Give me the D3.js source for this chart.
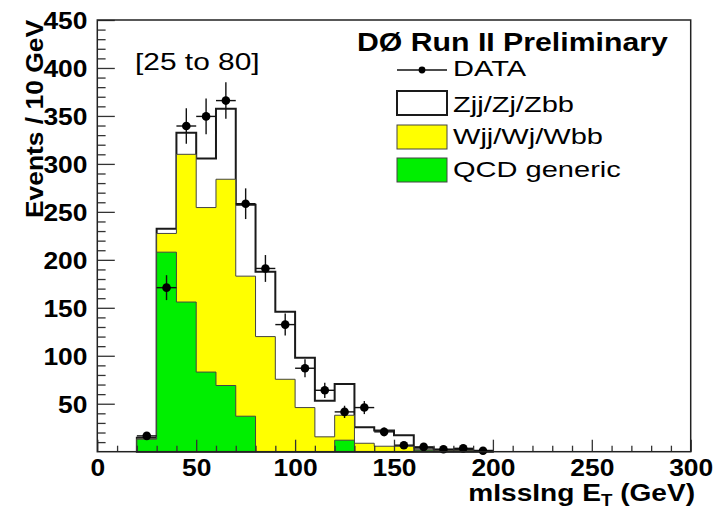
<!DOCTYPE html>
<html>
<head>
<meta charset="utf-8">
<script src="https://cdn.jsdelivr.net/npm/d3@7"></script>
<style>
  html, body { margin: 0; padding: 0; background: #fff; }
  svg { display: block; font-family: "Liberation Sans", Arial, Helvetica, sans-serif; }
</style>
</head>
<body>
<svg id="chart" width="725" height="510"></svg>
<script>
// Missing transverse energy, 10 GeV bins (lower bin edges in GeV)
const binLow = [20, 30, 40, 50, 60, 70, 80, 90, 100, 110, 120, 130, 140, 150, 160, 170, 180, 190];
const binWidth = 10;

// Simulated backgrounds, events per bin
const qcdGeneric = [13, 208, 156, 83, 69, 37, 0, 0, 0, 0, 12, 0, 0, 0, 1.5, 0, 0, 0];
const wJets      = [0.5, 19.5, 154, 171.5, 215, 146, 120, 75.5, 46, 15.5, 26, 8.8, 5.7, 5.6, 0.5, 1, 1, 0.5];
const zJets      = [1, 5, 22.5, 51, 73.5, 74.5, 67.5, 70.5, 52, 37.5, 32.5, 16.7, 16.3, 11.6, 2, 1, 1, 0.5];

// Observed events per bin and their uncertainties
const dataEvents = [16.5, 171, 339.5, 349.5, 366, 258.5, 191, 132.5, 87, 64, 41.5, 46, 20.7, 6.8, 5, 2.5, 3.5, 1];
const dataErrors = [4, 13, 18.5, 18.7, 19, 16, 14, 11.5, 9.3, 8, 6.4, 6.8, 4.5, 2.6, 2.2, 1.6, 1.9, 1];

const xTicks = [0, 50, 100, 150, 200, 250, 300];
const yTicks = [50, 100, 150, 200, 250, 300, 350, 400, 450];

const legendItems = [
  { key: "z",   label: "Zjj/Zj/Zbb" },
  { key: "w",   label: "Wjj/Wj/Wbb" },
  { key: "qcd", label: "QCD generic" }
];
const colors = { z: "#ffffff", w: "#ffff00", qcd: "#00ef00" };

const svg = d3.select("#chart");
const plot = { left: 97.3, right: 690.7, top: 20, bottom: 451.7 };

const x = d3.scaleLinear().domain([0, 300]).range([plot.left, plot.right]);
const y = d3.scaleLinear().domain([0, 450]).range([plot.bottom, plot.top]);

// Stack the three background samples: QCD at the bottom, then W, then Z
const rows = binLow.map((b, i) => ({ lo: b, qcd: qcdGeneric[i], w: wJets[i], z: zJets[i] }));
const stacked = d3.stack().keys(["qcd", "w", "z"])(rows);

// Each cumulative histogram is drawn from zero as a step outline
const stepPoints = layer => {
  const pts = [];
  layer.forEach(d => {
    pts.push([d.data.lo, d[1]]);
    pts.push([d.data.lo + binWidth, d[1]]);
  });
  return pts;
};
const area = d3.area()
  .x(p => x(p[0]))
  .y0(y(0))
  .y1(p => y(p[1]));

const histG = svg.append("g");
[...stacked].reverse().forEach(layer => {
  const total = layer.key === "z";
  histG.append("path")
    .attr("d", area(stepPoints(layer)))
    .attr("fill", colors[layer.key])
    .attr("stroke", total ? "#1a1a1a" : "#444")
    .attr("stroke-width", total ? 2 : 1)
    .attr("stroke-linejoin", "miter");
});

// Data points with error bars
const dataG = svg.append("g");
binLow.forEach((b, i) => {
  const cx = x(b + binWidth / 2), cy = y(dataEvents[i]);
  dataG.append("line")
    .attr("x1", x(b)).attr("x2", x(b + binWidth))
    .attr("y1", cy).attr("y2", cy)
    .attr("stroke", "#111").attr("stroke-width", 1.4);
  dataG.append("line")
    .attr("x1", cx).attr("x2", cx)
    .attr("y1", y(dataEvents[i] + dataErrors[i]))
    .attr("y2", y(Math.max(0, dataEvents[i] - dataErrors[i])))
    .attr("stroke", "#111").attr("stroke-width", 1.4);
  dataG.append("circle")
    .attr("cx", cx).attr("cy", cy).attr("r", 4.3)
    .attr("fill", "#000");
});

// Axes: ticks point into the plot, labels outside
const tickColor = "#333";
const styleAxis = g => {
  g.selectAll(".tick line").attr("stroke", tickColor).attr("stroke-width", 1.3);
  g.select(".domain").remove();
};
const labelFont = g => g.selectAll("text")
  .attr("fill", "#000")
  .attr("font-size", 24)
  .attr("font-weight", "bold")
  .attr("font-family", "'Liberation Sans', Arial, sans-serif");

const yMinor = d3.range(10, 451, 10).filter(v => v % 50 !== 0);
svg.append("g")
  .attr("transform", `translate(${plot.left},0)`)
  .call(d3.axisLeft(y).tickValues(yMinor).tickSizeInner(-8.3).tickSizeOuter(0).tickFormat(""))
  .call(styleAxis);
const yAxisG = svg.append("g")
  .attr("transform", `translate(${plot.left},0)`)
  .call(d3.axisLeft(y).tickValues(yTicks).tickSizeInner(-17.5).tickSizeOuter(0).tickPadding(9))
  .call(styleAxis)
  .call(labelFont);
yAxisG.selectAll("text")
  .attr("dy", "0.36em")
  .attr("transform", "scale(1.1,1)");

const xMinor = d3.range(10, 300, 10).filter(v => v % 50 !== 0);
svg.append("g")
  .attr("transform", `translate(0,${plot.bottom})`)
  .call(d3.axisBottom(x).tickValues(xMinor).tickSizeInner(-6).tickSizeOuter(0).tickFormat(""))
  .call(styleAxis);
const xAxisG = svg.append("g")
  .attr("transform", `translate(0,${plot.bottom})`)
  .call(d3.axisBottom(x).tickValues(xTicks).tickSizeInner(-12).tickSizeOuter(0).tickPadding(7))
  .call(styleAxis)
  .call(labelFont);
xAxisG.selectAll("text").attr("transform", "scale(1.1,1)");
xAxisG.selectAll(".tick").each(function (d) {
  // keep stretched labels centred on their tick
  d3.select(this).select("text").attr("transform", "scale(1.1,1)");
});

// Frame
svg.append("rect")
  .attr("x", plot.left).attr("y", plot.top)
  .attr("width", plot.right - plot.left).attr("height", plot.bottom - plot.top)
  .attr("fill", "none").attr("stroke", "#222").attr("stroke-width", 1.5);

// Axis titles
svg.append("text")
  .attr("transform", "translate(43,20) rotate(-90) scale(1.1,1)")
  .attr("text-anchor", "end")
  .attr("font-size", 24).attr("font-weight", "bold")
  .text("Events / 10 GeV");

const xTitle = svg.append("text")
  .attr("transform", "translate(695,501) scale(1.17,1)")
  .attr("text-anchor", "end")
  .attr("font-size", 24).attr("font-weight", "bold");
xTitle.append("tspan").text("mIssIng E");
xTitle.append("tspan").attr("font-size", 16).attr("dy", 5).text("T");
xTitle.append("tspan").attr("dy", -5).text(" (GeV)");

// Selection window label
svg.append("text")
  .attr("transform", "translate(135,70) scale(1.3,1)")
  .attr("font-size", 23)
  .text("[25 to 80]");

// Legend
svg.append("text")
  .attr("transform", "translate(357,51) scale(1.21,1)")
  .attr("font-size", 25).attr("font-weight", "bold")
  .text("DØ Run II Preliminary");

const leg = { x0: 397, x1: 447, tx: 453 };
svg.append("line")
  .attr("x1", leg.x0).attr("x2", leg.x1).attr("y1", 70).attr("y2", 70)
  .attr("stroke", "#111").attr("stroke-width", 1.4);
svg.append("circle").attr("cx", (leg.x0 + leg.x1) / 2).attr("cy", 70).attr("r", 3.4).attr("fill", "#000");
svg.append("text")
  .attr("transform", `translate(${leg.tx},75.5) scale(1.32,1)`)
  .attr("font-size", 22)
  .text("DATA");

const boxTops = [91, 125, 158];
const textBase = [111.5, 143.5, 176.5];
legendItems.forEach((it, i) => {
  svg.append("rect")
    .attr("x", leg.x0).attr("y", boxTops[i])
    .attr("width", leg.x1 - leg.x0).attr("height", 24)
    .attr("fill", colors[it.key])
    .attr("stroke", it.key === "z" ? "#1a1a1a" : "#444")
    .attr("stroke-width", it.key === "z" ? 2 : 1);
  svg.append("text")
    .attr("transform", `translate(${leg.tx},${textBase[i]}) scale(1.32,1)`)
    .attr("font-size", 22)
    .text(it.label);
});
</script>
</body>
</html>
